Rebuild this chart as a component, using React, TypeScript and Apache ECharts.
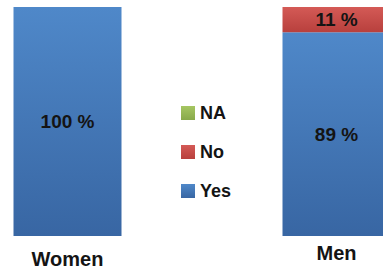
import React, { useEffect, useRef } from "react";
import * as echarts from "echarts";

const categories = ["Women", "Men"];
const yesValues = [100, 89];
const noValues = [0, 11];
const naValues = [0, 0];
const legendOrder = ["NA", "No", "Yes"];

const grad = (top: string, bottom: string) =>
  new echarts.graphic.LinearGradient(0, 0, 0, 1, [
    { offset: 0, color: top },
    { offset: 1, color: bottom },
  ]);

const FONT = "Liberation Sans, Arial, sans-serif";

export default function App() {
  const ref = useRef<HTMLDivElement>(null);
  useEffect(() => {
    const chart = echarts.init(ref.current!, null, { renderer: "svg" });
    const label = {
      show: true,
      position: "inside",
      fontFamily: FONT,
      fontWeight: "bold",
      fontSize: 19,
      color: "#141414",
      formatter: (p: any) => (p.value ? `${p.value} %` : ""),
    };
    chart.setOption({
      animation: false,
      grid: { left: 0, right: 0, top: 7, bottom: 35 },
      legend: {
        data: legendOrder,
        orient: "vertical",
        left: 243,
        top: 99,
        itemWidth: 14,
        itemHeight: 14,
        itemGap: 21,
        icon: "rect",
        textStyle: {
          fontFamily: FONT,
          fontWeight: "bold",
          fontSize: 18,
          color: "#141414",
        },
      },
      xAxis: {
        type: "category",
        data: categories,
        axisLine: { show: false },
        axisTick: { show: false },
        axisLabel: {
          margin: 7,
          formatter: (v: string) => (v === "Women" ? `{w|${v}}` : `{m|${v}}`),
          rich: {
            w: {
              fontFamily: FONT,
              fontWeight: "bold",
              fontSize: 20,
              color: "#141414",
              padding: [6, 0, 0, 0],
            },
            m: {
              fontFamily: FONT,
              fontWeight: "bold",
              fontSize: 20,
              color: "#141414",
            },
          },
        },
      },
      yAxis: { type: "value", min: 0, max: 100, show: false },
      series: [
        {
          name: "Yes",
          type: "bar",
          stack: "a",
          barWidth: 108,
          data: yesValues,
          label,
          itemStyle: { color: grad("#4f88c9", "#3866a3") },
        },
        {
          name: "No",
          type: "bar",
          stack: "a",
          barWidth: 108,
          data: noValues,
          label,
          itemStyle: { color: grad("#d45a56", "#b8403d") },
        },
        {
          name: "NA",
          type: "bar",
          stack: "a",
          barWidth: 108,
          data: naValues,
          label,
          itemStyle: { color: grad("#a6c662", "#88a94a") },
        },
      ],
    });
    return () => chart.dispose();
  }, []);
  return (
    <div style={{ position: "absolute", left: 0, top: 0, width: 383, height: 271, overflow: "hidden" }}>
      <div ref={ref} style={{ position: "absolute", left: -67, top: 0, width: 538, height: 271 }} />
    </div>
  );
}
